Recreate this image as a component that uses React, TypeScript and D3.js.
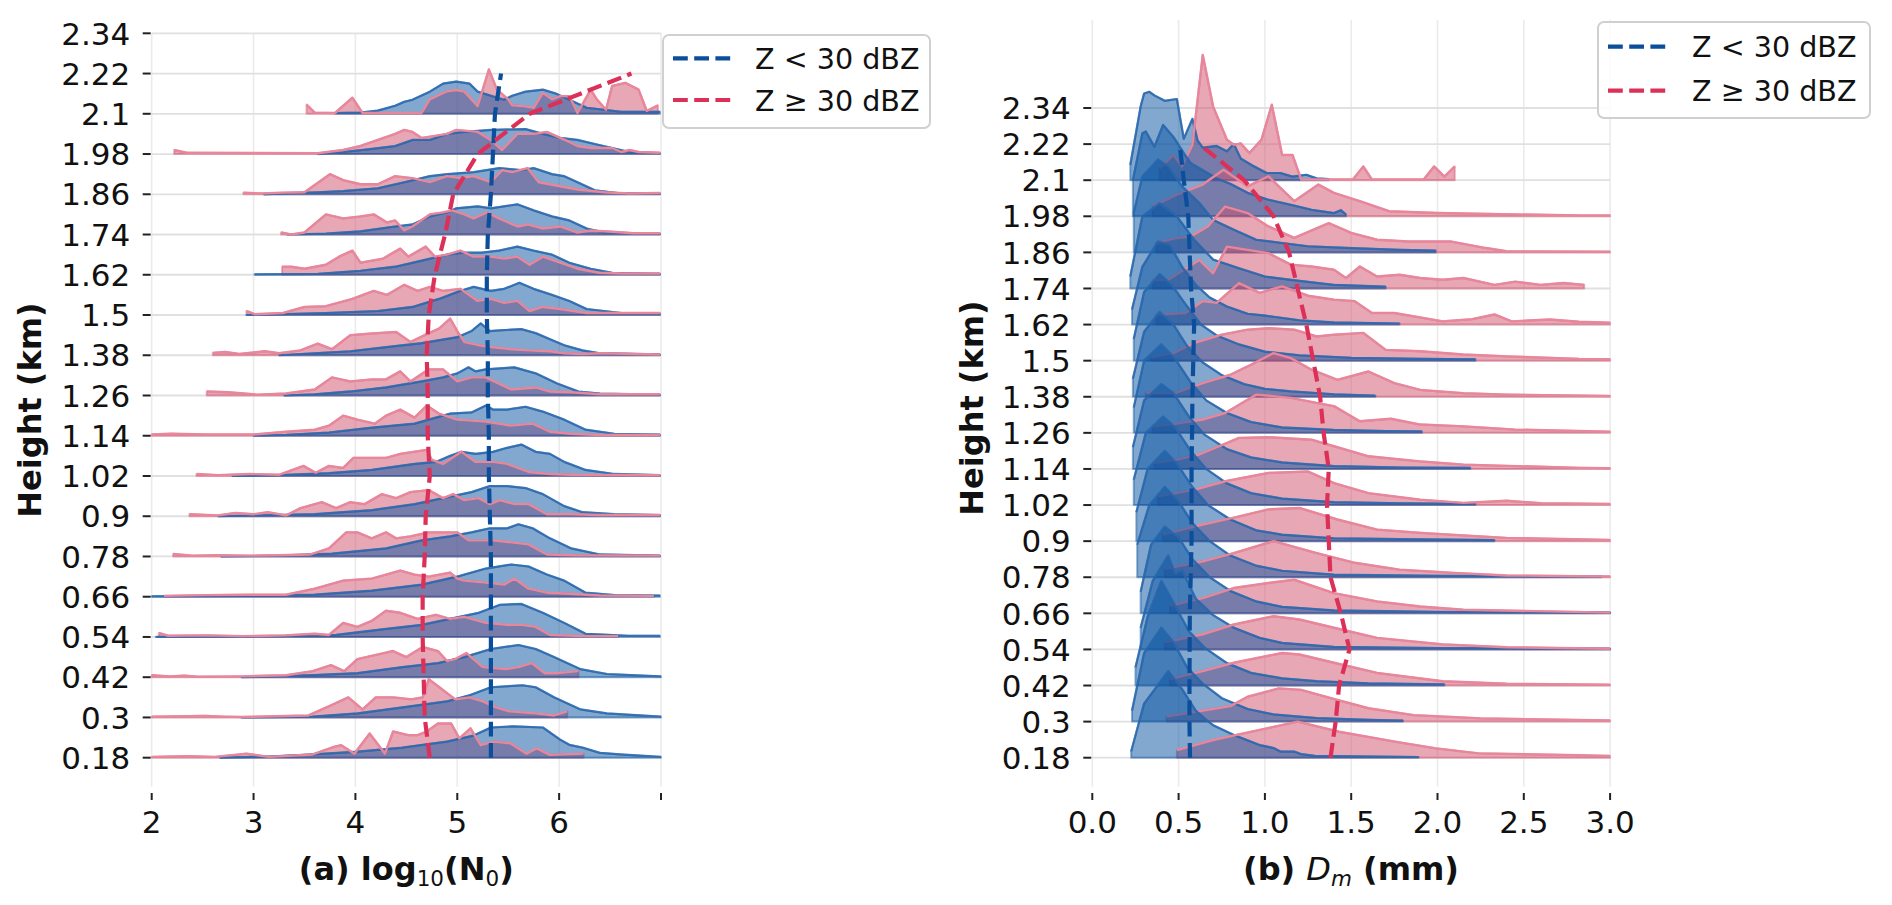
import React from "react";
import * as d3 from "d3";

type Pt = [number, number];

// ---------- shared axis data ----------
const rowLevels = [0.18, 0.3, 0.42, 0.54, 0.66, 0.78, 0.9, 1.02, 1.14, 1.26, 1.38, 1.5, 1.62, 1.74, 1.86, 1.98, 2.1];
const meanLevels = [0.18, 0.3, 0.42, 0.54, 0.66, 0.78, 0.9, 1.02, 1.14, 1.26, 1.38, 1.5, 1.62, 1.74, 1.86, 1.98, 2.1, 2.22];
const yTickValues = [0.18, 0.3, 0.42, 0.54, 0.66, 0.78, 0.9, 1.02, 1.14, 1.26, 1.38, 1.5, 1.62, 1.74, 1.86, 1.98, 2.1, 2.22, 2.34];
const yTickLabels = ["0.18", "0.3", "0.42", "0.54", "0.66", "0.78", "0.9", "1.02", "1.14", "1.26", "1.38", "1.5", "1.62", "1.74", "1.86", "1.98", "2.1", "2.22", "2.34"];
const n0TickValues = [2, 3, 4, 5, 6, 7];
const n0TickLabels = ["2", "3", "4", "5", "6", ""];
const dmTickValues = [0, 0.5, 1, 1.5, 2, 2.5, 3];
const dmTickLabels = ["0.0", "0.5", "1.0", "1.5", "2.0", "2.5", "3.0"];
const legendLabels = ["Z < 30 dBZ", "Z \u2265 30 dBZ"];

// ---------- mean lines (dashed) ----------
const n0LowMean = [5.33, 5.33, 5.33, 5.33, 5.33, 5.33, 5.32, 5.31, 5.31, 5.3, 5.3, 5.29, 5.29, 5.3, 5.33, 5.35, 5.37, 5.43];
const n0HighMean = [4.73, 4.68, 4.67, 4.66, 4.66, 4.68, 4.69, 4.73, 4.71, 4.71, 4.7, 4.72, 4.78, 4.88, 4.96, 5.2, 5.71, 6.71];
const dmLowMean = [0.566, 0.563, 0.563, 0.564, 0.565, 0.57, 0.575, 0.575, 0.575, 0.578, 0.58, 0.585, 0.59, 0.572, 0.564, 0.556, 0.53, 0.506];
const dmHighMean = [1.38, 1.41, 1.43, 1.49, 1.44, 1.38, 1.37, 1.36, 1.37, 1.34, 1.32, 1.28, 1.24, 1.19, 1.14, 1.05, 0.88, 0.62];

// ---------- (a) log10(N0) ridges: [x, density] per height row (0.18 ... 2.1) ----------
const n0Low: Pt[][] = [
  [[2.67,0],[3.15,0.03],[3.58,0.08],[4.02,0.15],[4.46,0.25],[4.9,0.4],[5.16,0.55],[5.33,0.75],[5.55,0.78],[5.84,0.75],[6.01,0.45],[6.1,0.32],[6.23,0.25],[6.4,0.12],[6.6,0.08],[7,0.02]],
  [[2.88,0],[3.58,0.02],[4.02,0.1],[4.46,0.25],[4.9,0.4],[5.12,0.55],[5.33,0.75],[5.64,0.8],[5.77,0.75],[5.95,0.5],[6.21,0.2],[6.47,0.1],[7,0.02]],
  [[2.88,0],[3.58,0.05],[4.02,0.1],[4.46,0.25],[4.81,0.35],[5.07,0.5],[5.33,0.7],[5.6,0.8],[5.77,0.7],[5.95,0.5],[6.21,0.2],[6.47,0.08],[7,0.02]],
  [[2.04,0],[2.54,0.01],[3.25,0.02],[3.81,0.05],[4.3,0.2],[4.65,0.3],[4.93,0.45],[5.21,0.6],[5.42,0.8],[5.63,0.82],[5.84,0.6],[6.05,0.35],[6.26,0.08],[6.68,0.03],[6.99,0.03]],
  [[2,0.01],[2.89,0.02],[3.6,0.05],[4.16,0.15],[4.65,0.3],[5,0.5],[5.28,0.7],[5.53,0.8],[5.7,0.75],[5.88,0.55],[6.05,0.4],[6.26,0.1],[6.54,0.04],[6.99,0.03]],
  [[2.68,0],[3.25,0.02],[3.77,0.07],[4.3,0.2],[4.65,0.4],[4.93,0.5],[5.14,0.6],[5.32,0.7],[5.49,0.7],[5.6,0.8],[5.74,0.7],[5.91,0.45],[6.12,0.2],[6.4,0.05],[6.99,0.02]],
  [[2.65,0],[3.07,0.02],[3.6,0.05],[4.16,0.15],[4.58,0.3],[4.86,0.45],[5.14,0.6],[5.32,0.75],[5.49,0.75],[5.67,0.7],[5.84,0.55],[6.05,0.25],[6.23,0.1],[6.54,0.05],[6.99,0.03]],
  [[2.79,0],[3.25,0.02],[3.74,0.07],[4.16,0.15],[4.58,0.3],[4.79,0.35],[4.93,0.5],[5.04,0.6],[5.18,0.55],[5.35,0.6],[5.49,0.7],[5.63,0.78],[5.77,0.6],[5.91,0.55],[6.05,0.35],[6.26,0.15],[6.54,0.05],[6.99,0.02]],
  [[3,0],[3.32,0.02],[3.74,0.08],[4.16,0.2],[4.58,0.3],[4.72,0.4],[4.93,0.55],[5.14,0.58],[5.28,0.75],[5.35,0.65],[5.49,0.65],[5.67,0.72],[5.84,0.6],[6.05,0.4],[6.26,0.15],[6.54,0.05],[6.99,0.03]],
  [[3.3,0],[3.6,0.03],[3.95,0.1],[4.3,0.2],[4.65,0.35],[4.86,0.45],[5,0.55],[5.11,0.7],[5.18,0.6],[5.28,0.65],[5.56,0.7],[5.77,0.55],[5.98,0.3],[6.19,0.1],[6.4,0.05],[6.99,0.02]],
  [[3.25,0],[3.6,0.05],[3.95,0.1],[4.3,0.2],[4.65,0.3],[5,0.45],[5.14,0.6],[5.23,0.79],[5.32,0.6],[5.42,0.62],[5.63,0.65],[5.77,0.55],[5.91,0.4],[6.05,0.25],[6.23,0.12],[6.4,0.05],[6.99,0.02]],
  [[2.93,0],[3.29,0.02],[3.71,0.05],[4.22,0.1],[4.56,0.2],[4.82,0.4],[5.03,0.6],[5.16,0.7],[5.33,0.6],[5.46,0.65],[5.61,0.8],[5.75,0.65],[5.93,0.5],[6.1,0.35],[6.27,0.15],[6.61,0.05],[6.99,0.03]],
  [[3.01,0.01],[3.63,0.02],[4.05,0.1],[4.39,0.2],[4.65,0.35],[4.9,0.5],[5.07,0.55],[5.24,0.55],[5.41,0.6],[5.59,0.7],[5.75,0.6],[5.93,0.5],[6.1,0.3],[6.31,0.15],[6.52,0.05],[6.99,0.02]],
  [[3.33,0],[3.71,0.02],[4.05,0.08],[4.39,0.2],[4.56,0.25],[4.73,0.45],[4.9,0.55],[4.99,0.65],[5.2,0.7],[5.33,0.65],[5.59,0.75],[5.75,0.6],[5.93,0.45],[6.1,0.35],[6.27,0.15],[6.44,0.05],[6.99,0.02]],
  [[3.1,0],[3.29,0.02],[3.63,0.05],[3.88,0.08],[4.22,0.15],[4.48,0.3],[4.73,0.45],[4.9,0.5],[5.16,0.55],[5.41,0.65],[5.63,0.6],[5.75,0.65],[5.93,0.5],[6.05,0.45],[6.18,0.3],[6.35,0.1],[6.61,0.02],[6.99,0.02]],
  [[3.63,0],[3.88,0.05],[4.14,0.12],[4.39,0.2],[4.56,0.35],[4.73,0.35],[4.9,0.5],[5.07,0.55],[5.33,0.6],[5.67,0.62],[5.84,0.5],[6.01,0.4],[6.18,0.35],[6.35,0.25],[6.52,0.15],[6.69,0.05],[6.99,0.02]],
  [[3.8,0.02],[4.05,0.03],[4.22,0.08],[4.39,0.2],[4.48,0.3],[4.56,0.35],[4.73,0.55],[4.86,0.75],[4.99,0.8],[5.12,0.75],[5.2,0.55],[5.33,0.45],[5.46,0.35],[5.54,0.45],[5.67,0.55],[5.84,0.6],[5.97,0.5],[6.1,0.35],[6.27,0.15],[6.44,0.1],[6.61,0.05],[6.99,0.05]],
];

const n0High: Pt[][] = [
  [[2,0.02],[2.36,0.04],[2.62,0.02],[2.93,0.1],[3.15,0.02],[3.58,0.08],[3.79,0.27],[3.86,0.31],[3.99,0.1],[4.14,0.6],[4.29,0.1],[4.37,0.65],[4.52,0.56],[4.61,0.56],[4.7,0.65],[4.81,0.85],[4.94,0.85],[5.02,0.48],[5.13,0.73],[5.23,0.31],[5.36,0.4],[5.52,0.36],[5.68,0.1],[5.78,0.23],[5.91,0.07],[6.24,0.1]],
  [[2,0.02],[2.53,0.04],[2.71,0.02],[2.88,0.01],[3.54,0.05],[3.76,0.3],[3.93,0.5],[4.07,0.2],[4.2,0.5],[4.37,0.5],[4.55,0.45],[4.66,0.5],[4.72,0.95],[4.85,0.7],[4.98,0.45],[5.12,0.5],[5.25,0.4],[5.38,0.25],[5.51,0.15],[5.77,0.1],[5.95,0.05],[6.08,0.15]],
  [[2,0.05],[2.18,0.02],[2.32,0.04],[2.45,0.01],[2.88,0.02],[3.32,0.05],[3.58,0.15],[3.76,0.3],[3.89,0.15],[4.02,0.45],[4.28,0.6],[4.37,0.65],[4.5,0.5],[4.66,0.75],[4.81,0.65],[4.9,0.4],[4.98,0.45],[5.09,0.6],[5.25,0.25],[5.47,0.2],[5.6,0.25],[5.73,0.35],[5.86,0.1],[5.99,0.1],[6.19,0.15]],
  [[2.07,0.1],[2.16,0.03],[2.54,0.04],[2.89,0.02],[3.32,0.04],[3.6,0.08],[3.74,0.05],[3.88,0.35],[4.02,0.25],[4.16,0.4],[4.3,0.65],[4.44,0.6],[4.61,0.45],[4.79,0.55],[4.93,0.45],[5.07,0.5],[5.28,0.35],[5.49,0.3],[5.63,0.3],[5.77,0.25],[5.91,0.05],[6.26,0.02],[6.58,0.02]],
  [[2.12,0.02],[2.54,0.04],[2.96,0.05],[3.32,0.05],[3.6,0.2],[3.88,0.4],[4.16,0.45],[4.44,0.65],[4.58,0.55],[4.72,0.5],[4.93,0.6],[5,0.45],[5.07,0.4],[5.28,0.35],[5.46,0.3],[5.56,0.45],[5.7,0.2],[5.88,0.1],[6.05,0.08],[6.4,0.03],[6.93,0.02]],
  [[2.21,0.06],[2.4,0.02],[2.65,0.03],[2.96,0.02],[3.25,0.03],[3.56,0.05],[3.74,0.2],[3.91,0.6],[4.02,0.6],[4.16,0.45],[4.3,0.6],[4.4,0.45],[4.54,0.5],[4.72,0.6],[4.86,0.6],[5,0.6],[5.11,0.4],[5.35,0.4],[5.53,0.35],[5.7,0.3],[5.88,0.05],[6.16,0.03],[6.99,0.02]],
  [[2.37,0.05],[2.65,0.02],[2.82,0.08],[3,0.05],[3.14,0.1],[3.32,0.02],[3.46,0.2],[3.67,0.35],[3.81,0.2],[3.95,0.35],[4.09,0.3],[4.26,0.55],[4.4,0.45],[4.54,0.6],[4.72,0.65],[4.86,0.45],[4.96,0.55],[5.07,0.4],[5.21,0.45],[5.32,0.3],[5.42,0.4],[5.56,0.3],[5.7,0.3],[5.88,0.05],[6.12,0.05],[6.4,0.03],[6.99,0.03]],
  [[2.44,0.05],[2.65,0.02],[2.96,0.05],[3.25,0.03],[3.49,0.25],[3.61,0.08],[3.74,0.25],[3.88,0.2],[3.98,0.45],[4.16,0.45],[4.3,0.45],[4.44,0.55],[4.7,0.65],[4.75,0.4],[4.86,0.3],[5.04,0.6],[5.18,0.35],[5.35,0.35],[5.49,0.3],[5.7,0.1],[5.91,0.05],[6.12,0.03],[6.99,0.02]],
  [[2,0.03],[2.19,0.05],[2.54,0.03],[3,0.03],[3.32,0.1],[3.6,0.15],[3.74,0.25],[3.88,0.5],[4.02,0.4],[4.19,0.3],[4.3,0.5],[4.44,0.65],[4.58,0.45],[4.7,0.75],[4.82,0.55],[5,0.4],[5.28,0.35],[5.53,0.25],[5.74,0.3],[5.91,0.1],[6.12,0.05],[6.4,0.02],[6.99,0.02]],
  [[2.54,0.1],[2.75,0.08],[3.04,0.02],[3.32,0.05],[3.6,0.15],[3.77,0.45],[3.95,0.35],[4.16,0.4],[4.3,0.4],[4.44,0.6],[4.54,0.35],[4.72,0.65],[4.86,0.65],[5,0.35],[5.14,0.45],[5.28,0.45],[5.53,0.15],[5.77,0.2],[5.91,0.1],[6.12,0.08],[6.4,0.03],[6.99,0.03]],
  [[2.6,0.06],[2.72,0.08],[2.86,0.03],[3.11,0.1],[3.25,0.05],[3.46,0.12],[3.63,0.29],[3.77,0.15],[3.95,0.5],[4.16,0.54],[4.4,0.58],[4.54,0.33],[4.68,0.5],[4.82,0.66],[4.93,0.91],[5,0.6],[5.07,0.33],[5.21,0.25],[5.35,0.2],[5.53,0.15],[5.7,0.12],[5.91,0.1],[6.05,0.05],[6.23,0.03],[6.4,0.05],[6.99,0.02]],
  [[2.93,0.1],[3.01,0.02],[3.29,0.05],[3.5,0.2],[3.71,0.22],[3.97,0.4],[4.18,0.6],[4.31,0.5],[4.48,0.75],[4.61,0.6],[4.73,0.7],[4.86,0.6],[5.03,0.65],[5.2,0.35],[5.33,0.4],[5.46,0.3],[5.59,0.35],[5.71,0.1],[5.84,0.2],[6.01,0.15],[6.27,0.05],[6.99,0.05]],
  [[3.28,0.2],[3.37,0.2],[3.5,0.15],[3.71,0.25],[3.84,0.45],[3.97,0.6],[4.05,0.3],[4.27,0.4],[4.44,0.65],[4.52,0.45],[4.69,0.7],[4.78,0.45],[4.9,0.5],[5.03,0.6],[5.16,0.45],[5.33,0.45],[5.46,0.4],[5.59,0.45],[5.71,0.25],[5.84,0.45],[6.01,0.3],[6.18,0.15],[6.39,0.05],[6.61,0.03],[6.99,0.03]],
  [[3.27,0.05],[3.37,0],[3.5,0.05],[3.71,0.5],[3.88,0.4],[4.05,0.45],[4.18,0.5],[4.31,0.3],[4.39,0.35],[4.48,0.1],[4.56,0.2],[4.73,0.5],[4.86,0.55],[4.95,0.6],[5.07,0.5],[5.16,0.4],[5.29,0.55],[5.41,0.4],[5.59,0.2],[5.69,0.25],[5.84,0.15],[6.01,0.2],[6.18,0.05],[6.31,0.1],[6.52,0.07],[6.73,0.03],[6.99,0.03]],
  [[2.9,0.04],[3.07,0.02],[3.29,0.04],[3.5,0.05],[3.75,0.5],[3.88,0.35],[4.05,0.25],[4.22,0.25],[4.39,0.45],[4.56,0.4],[4.73,0.3],[4.9,0.45],[5.03,0.4],[5.16,0.45],[5.33,0.3],[5.44,0.6],[5.54,0.55],[5.69,0.65],[5.8,0.3],[6.01,0.2],[6.18,0.12],[6.44,0.05],[6.69,0.02],[6.99,0.03]],
  [[2.22,0.1],[2.35,0.03],[3.63,0.02],[3.88,0.1],[4.05,0.2],[4.22,0.35],[4.39,0.5],[4.48,0.6],[4.56,0.55],[4.65,0.4],[4.78,0.45],[4.9,0.5],[4.99,0.6],[5.2,0.55],[5.33,0.35],[5.44,0.1],[5.59,0.5],[5.75,0.5],[5.88,0.55],[6.01,0.4],[6.1,0.3],[6.18,0.2],[6.31,0.15],[6.52,0.15],[6.61,0.05],[6.69,0.1],[6.78,0.05],[6.99,0.03]],
  [[3.52,0.23],[3.6,0.03],[3.8,0.02],[3.97,0.4],[4.07,0.02],[4.65,0.02],[4.73,0.36],[4.9,0.56],[4.99,0.59],[5.07,0.55],[5.2,0.19],[5.31,1.1],[5.39,0.6],[5.5,0.36],[5.54,0.21],[5.65,0.19],[5.75,0.15],[5.84,0.52],[5.93,0.36],[6.01,0.44],[6.1,0.44],[6.18,0.02],[6.31,0.6],[6.37,0.36],[6.46,0.1],[6.52,0.69],[6.65,0.77],[6.78,0.6],[6.86,0.07],[6.97,0.21]],
];

// ---------- (b) Dm ridges ----------
const dmLow: Pt[][] = [
  [[0.225,0.17],[0.3,1.5],[0.44,2.4],[0.52,1.9],[0.6,1.3],[0.66,1.05],[0.7,0.9],[0.82,0.63],[0.97,0.35],[1.05,0.27],[1.09,0.17],[1.17,0.17],[1.21,0.1],[1.29,0.05],[1.89,0.02]],
  [[0.23,0.3],[0.3,1.9],[0.4,2.6],[0.47,2.2],[0.55,1.5],[0.64,1.05],[0.75,0.65],[0.9,0.35],[1.05,0.2],[1.3,0.1],[1.6,0.05],[1.8,0.03]],
  [[0.25,0.5],[0.32,1.9],[0.4,2.9],[0.47,2.3],[0.56,1.5],[0.65,1.05],[0.78,0.62],[0.92,0.35],[1.1,0.2],[1.3,0.12],[1.6,0.06],[2.04,0.03]],
  [[0.28,0.6],[0.35,1.9],[0.44,2.6],[0.48,2.1],[0.52,2.2],[0.6,1.4],[0.7,0.95],[0.82,0.6],[0.97,0.32],[1.1,0.18],[1.4,0.07],[2,0.04],[3,0.02]],
  [[0.28,0.6],[0.34,1.9],[0.42,2.4],[0.5,2.1],[0.58,1.5],[0.68,1],[0.8,0.62],[0.95,0.33],[1.1,0.18],[1.4,0.08],[2,0.04],[3,0.02]],
  [[0.26,0.9],[0.33,2],[0.42,2.5],[0.5,2.1],[0.58,1.5],[0.68,1],[0.8,0.6],[0.95,0.32],[1.1,0.18],[1.4,0.07],[2,0.04],[2.95,0.02]],
  [[0.255,0.8],[0.32,2],[0.42,2.5],[0.49,2.15],[0.58,1.5],[0.67,1],[0.8,0.6],[0.95,0.3],[1.1,0.18],[1.4,0.08],[1.9,0.05],[2.33,0.03]],
  [[0.24,0.7],[0.31,2],[0.41,2.45],[0.48,2.15],[0.57,1.5],[0.66,1],[0.78,0.6],[0.92,0.33],[1.1,0.18],[1.4,0.08],[1.8,0.05],[2.22,0.03]],
  [[0.235,0.6],[0.3,1.9],[0.4,2.35],[0.47,2.1],[0.56,1.45],[0.65,0.95],[0.78,0.55],[0.92,0.32],[1.1,0.18],[1.4,0.08],[1.8,0.04],[2.19,0.03]],
  [[0.24,0.7],[0.3,2],[0.4,2.45],[0.48,2.05],[0.57,1.4],[0.66,0.9],[0.78,0.55],[0.92,0.3],[1.1,0.15],[1.4,0.08],[1.7,0.05],[1.91,0.04]],
  [[0.235,0.5],[0.3,1.8],[0.39,2.35],[0.47,2],[0.55,1.4],[0.64,0.95],[0.75,0.6],[0.88,0.35],[1,0.22],[1.15,0.15],[1.4,0.07],[1.64,0.03]],
  [[0.24,0.6],[0.3,1.9],[0.39,2.4],[0.46,2.1],[0.55,1.5],[0.63,1],[0.72,0.7],[0.85,0.45],[1,0.25],[1.2,0.15],[1.5,0.08],[1.9,0.05],[2.22,0.04]],
  [[0.23,0.42],[0.29,1.6],[0.38,2.3],[0.45,2.2],[0.52,1.6],[0.6,1.1],[0.68,0.75],[0.78,0.5],[0.9,0.3],[1,0.25],[1.2,0.12],[1.4,0.06],[1.78,0.03]],
  [[0.22,0.33],[0.29,2],[0.39,2.36],[0.49,2],[0.59,1.35],[0.7,0.8],[0.85,0.56],[1,0.33],[1.15,0.24],[1.4,0.1],[1.7,0.05]],
  [[0.24,1.1],[0.29,2.1],[0.38,2.57],[0.44,2.38],[0.52,1.83],[0.62,1.37],[0.7,0.9],[0.82,0.63],[0.95,0.35],[1.1,0.26],[1.25,0.17],[1.5,0.12],[1.78,0.07],[1.99,0.05]],
  [[0.235,1],[0.29,2.3],[0.31,2.35],[0.36,1.93],[0.41,2.53],[0.47,2.2],[0.53,1.75],[0.57,1.47],[0.64,1.28],[0.72,1.05],[0.8,0.9],[0.9,0.65],[1.02,0.46],[1.15,0.32],[1.27,0.18],[1.4,0.09],[1.44,0.17],[1.47,0.05]],
  [[0.22,0.42],[0.28,2.04],[0.3,2.4],[0.33,2.45],[0.36,2.35],[0.42,2.2],[0.49,2.25],[0.53,1.15],[0.58,1.7],[0.61,1.1],[0.64,0.9],[0.72,0.95],[0.78,0.8],[0.82,1],[0.86,0.6],[0.93,0.4],[1.01,0.2],[1.09,0.2],[1.16,0.1],[1.24,0.15],[1.3,0.05],[1.37,0.03]],
];

const dmHigh: Pt[][] = [
  [[0.49,0.21],[0.7,0.49],[0.95,0.75],[1.19,1],[1.43,0.72],[1.76,0.44],[1.99,0.26],[2.24,0.12],[2.82,0.07],[3,0.05]],
  [[0.43,0.14],[0.8,0.43],[0.9,0.69],[1.08,0.92],[1.21,0.88],[1.42,0.6],[1.6,0.37],[1.86,0.18],[2.25,0.09],[3,0.03]],
  [[0.45,0.18],[0.64,0.4],[0.82,0.63],[1.1,0.9],[1.2,0.86],[1.4,0.63],[1.65,0.35],[2.03,0.12],[2.4,0.05],[3,0.02]],
  [[0.42,0.2],[0.64,0.42],[0.82,0.69],[1.05,0.92],[1.2,0.83],[1.4,0.6],[1.65,0.32],[2.03,0.14],[2.4,0.06],[3,0.02]],
  [[0.45,0.21],[0.64,0.42],[0.82,0.7],[1.02,0.84],[1.17,0.93],[1.4,0.56],[1.65,0.33],[1.9,0.19],[2.15,0.1],[3,0.02]],
  [[0.42,0.23],[0.64,0.44],[0.82,0.67],[1.05,1],[1.3,0.67],[1.52,0.4],[1.78,0.21],[2.1,0.12],[2.4,0.05],[3,0.02]],
  [[0.41,0.18],[0.64,0.46],[0.82,0.65],[1.02,0.88],[1.2,0.92],[1.42,0.6],[1.65,0.32],[1.9,0.23],[2.4,0.09],[3,0.03]],
  [[0.38,0.24],[0.59,0.42],[0.77,0.66],[1.02,0.89],[1.25,0.93],[1.4,0.61],[1.6,0.33],[1.9,0.15],[2.15,0.06],[2.4,0.12],[2.6,0.05],[3,0.03]],
  [[0.36,0.17],[0.49,0.26],[0.62,0.4],[0.85,0.86],[1.02,0.88],[1.27,0.81],[1.4,0.63],[1.6,0.35],[1.9,0.21],[2.15,0.12],[2.82,0.03],[3,0.02]],
  [[0.35,0.18],[0.49,0.26],[0.64,0.37],[0.77,0.55],[0.95,1.06],[1.15,0.97],[1.3,0.83],[1.4,0.74],[1.55,0.32],[1.73,0.39],[1.9,0.23],[2.15,0.18],[2.45,0.09],[3,0.03]],
  [[0.31,0.12],[0.39,0.1],[0.49,0.12],[0.64,0.38],[0.8,0.61],[0.9,0.84],[1.05,1.21],[1.15,1.07],[1.27,0.75],[1.42,0.47],[1.6,0.7],[1.75,0.38],[1.9,0.19],[2.15,0.1],[2.4,0.06],[3,0.02]],
  [[0.34,0.1],[0.47,0.21],[0.59,0.49],[0.75,0.72],[0.9,0.86],[1.02,0.9],[1.17,0.86],[1.3,0.67],[1.4,0.72],[1.57,0.77],[1.7,0.3],[1.9,0.26],[2.15,0.17],[2.4,0.12],[2.82,0.05],[3,0.04]],
  [[0.37,0.28],[0.54,0.32],[0.64,0.65],[0.72,0.6],[0.85,1.15],[0.97,0.88],[1.1,1.06],[1.25,0.8],[1.4,0.69],[1.52,0.65],[1.62,0.32],[1.75,0.32],[2.03,0.09],[2.2,0.15],[2.33,0.28],[2.43,0.09],[2.65,0.14],[2.82,0.08],[3,0.05]],
  [[0.35,0.24],[0.44,0.24],[0.62,0.79],[0.7,0.42],[0.78,1.16],[0.9,1.07],[1.02,0.98],[1.15,0.66],[1.27,0.61],[1.4,0.52],[1.47,0.29],[1.55,0.61],[1.65,0.33],[1.78,0.38],[1.9,0.29],[2.03,0.24],[2.15,0.29],[2.33,0.1],[2.45,0.19],[2.6,0.1],[2.73,0.15],[2.85,0.1]],
  [[0.37,0.26],[0.49,0.4],[0.57,0.44],[0.67,0.72],[0.77,1.27],[0.9,1.09],[1.02,0.72],[1.17,0.4],[1.37,0.81],[1.5,0.54],[1.65,0.35],[1.83,0.3],[2.08,0.3],[2.28,0.12],[2.4,0.03],[3,0.02]],
  [[0.35,0.28],[0.49,0.6],[0.64,0.88],[0.76,1.29],[0.9,0.83],[1.02,1.11],[1.17,0.42],[1.31,0.88],[1.4,0.65],[1.55,0.42],[1.72,0.14],[2,0.09],[2.83,0.02],[3,0.02]],
  [[0.39,0.33],[0.47,0.7],[0.52,0.38],[0.58,0.98],[0.64,3.47],[0.7,2.04],[0.78,1.12],[0.82,0.98],[0.86,1.02],[0.91,0.75],[0.98,1.12],[1.04,2.09],[1.1,0.7],[1.16,0.7],[1.21,0.02],[1.51,0.02],[1.57,0.38],[1.62,0.02],[1.92,0.02],[1.98,0.38],[2.04,0.1],[2.1,0.38]],
];

// ---------- styling ----------
const FONT = "'DejaVu Sans', sans-serif";
const BLUE_FILL = "#0652a0";
const BLUE_LINE = "#2c68ae";
const PINK_FILL = "#d2506c";
const PINK_LINE = "#e8869b";
const BLUE_DASH = "#0b4f9c";
const RED_DASH = "#dc3058";
const INK = "#111";
const RIDGE_UNIT = 0.12; // density 1.0 spans one row spacing

type PanelCfg = {
  x0: number; x1: number; yTop: number; yBot: number;
  xDomain: [number, number]; yDomain: [number, number];
  xTicks: number[]; xLabels: string[];
  low: Pt[][]; high: Pt[][]; lowMean: number[]; highMean: number[];
};

const panelA: PanelCfg = {
  x0: 151.7, x1: 661, yTop: 33.3, yBot: 786.7,
  xDomain: [2, 7], yDomain: [0.0935, 2.34],
  xTicks: n0TickValues, xLabels: n0TickLabels,
  low: n0Low, high: n0High, lowMean: n0LowMean, highMean: n0HighMean,
};
const panelB: PanelCfg = {
  x0: 1092.3, x1: 1610.1, yTop: 20, yBot: 786.7,
  xDomain: [0, 3], yDomain: [0.0836, 2.6326],
  xTicks: dmTickValues, xLabels: dmTickLabels,
  low: dmLow, high: dmHigh, lowMean: dmLowMean, highMean: dmHighMean,
};

function Panel({ p }: { p: PanelCfg }) {
  const x = d3.scaleLinear().domain(p.xDomain).range([p.x0, p.x1]);
  const y = d3.scaleLinear().domain(p.yDomain).range([p.yBot, p.yTop]);
  const areaFor = (base: number) =>
    d3.area<Pt>().x((d) => x(d[0])).y0(y(base)).y1((d) => y(base + d[1] * RIDGE_UNIT));
  const lineFor = (base: number) =>
    d3.line<Pt>().x((d) => x(d[0])).y((d) => y(base + d[1] * RIDGE_UNIT));
  const meanLine = d3.line<number>().x((d) => x(d)).y((_, i) => y(meanLevels[i]));
  const order = rowLevels.map((_, i) => i).reverse();
  const tickY0 = 793;
  const tickY1 = 800;
  return (
    <g>
      {p.xTicks.map((t) => (
        <line key={"vg" + t} x1={x(t)} x2={x(t)} y1={p.yTop} y2={p.yBot} stroke="#ebebeb" strokeWidth={1.6} />
      ))}
      {yTickValues.map((t) => (
        <line key={"hg" + t} x1={p.x0} x2={p.x1} y1={y(t)} y2={y(t)} stroke="#e0e0e0" strokeWidth={1.8} />
      ))}
      {order.map((i) => {
        const base = rowLevels[i];
        return (
          <g key={"row" + i}>
            <path d={areaFor(base)(p.high[i]) || ""} fill={PINK_FILL} fillOpacity={0.5} stroke={PINK_FILL} strokeOpacity={0.45} strokeWidth={2} strokeLinejoin="round" />
            <path d={areaFor(base)(p.low[i]) || ""} fill={BLUE_FILL} fillOpacity={0.5} stroke={BLUE_FILL} strokeOpacity={0.45} strokeWidth={2} strokeLinejoin="round" />
            <path d={lineFor(base)(p.low[i]) || ""} fill="none" stroke={BLUE_LINE} strokeOpacity={0.85} strokeWidth={2.2} strokeLinejoin="round" />
            <path d={lineFor(base)(p.high[i]) || ""} fill="none" stroke={PINK_LINE} strokeWidth={2.4} strokeLinejoin="round" />
          </g>
        );
      })}
      <path d={meanLine(p.lowMean) || ""} fill="none" stroke={BLUE_DASH} strokeWidth={4.2} strokeDasharray="14.8,6.4" />
      <path d={meanLine(p.highMean) || ""} fill="none" stroke={RED_DASH} strokeWidth={4.2} strokeDasharray="14.8,6.4" />
      {yTickValues.map((t, i) => (
        <g key={"yt" + t}>
          <line x1={p.x0 - 9} x2={p.x0 - 1} y1={y(t)} y2={y(t)} stroke="#222" strokeWidth={2} />
          <text x={p.x0 - 21.5} y={y(t) + 11.2} textAnchor="end" fontSize={31} fontFamily={FONT} fill={INK}>
            {yTickLabels[i]}
          </text>
        </g>
      ))}
      {p.xTicks.map((t, i) => (
        <g key={"xt" + t}>
          <line x1={x(t)} x2={x(t)} y1={tickY0} y2={tickY1} stroke="#222" strokeWidth={2} />
          <text x={x(t)} y={833} textAnchor="middle" fontSize={31} fontFamily={FONT} fill={INK}>
            {p.xLabels[i]}
          </text>
        </g>
      ))}
    </g>
  );
}

function Legend({ x, y, w, h, rows, textX, baselines }: { x: number; y: number; w: number; h: number; rows: number[]; textX: number; baselines: number[] }) {
  const colors = [BLUE_DASH, RED_DASH];
  return (
    <g>
      <rect x={x} y={y} width={w} height={h} rx={6} ry={6} fill="#fff" fillOpacity={0.85} stroke="#d0d0d0" strokeWidth={2} />
      {rows.map((ry, i) => (
        <g key={i}>
          <line x1={x + 10} x2={x + 69} y1={ry} y2={ry} stroke={colors[i]} strokeWidth={4.2} strokeDasharray="14.8,6.4" />
          <text x={textX} y={baselines[i]} fontSize={28.6} fontFamily={FONT} fill={INK}>
            {legendLabels[i]}
          </text>
        </g>
      ))}
    </g>
  );
}

export default function App() {
  return (
    <div>
      <style>{`html,body{margin:0;padding:0;background:#fff;}`}</style>
      <svg width={1892} height={905} viewBox="0 0 1892 905" style={{ display: "block" }}>
        <rect x={0} y={0} width={1892} height={905} fill="#fff" />
        <Panel p={panelA} />
        <Panel p={panelB} />
        <text transform="translate(41,410) rotate(-90)" textAnchor="middle" fontSize={32} fontWeight="bold" fontFamily={FONT} fill={INK}>
          Height (km)
        </text>
        <text transform="translate(983,408) rotate(-90)" textAnchor="middle" fontSize={32} fontWeight="bold" fontFamily={FONT} fill={INK}>
          Height (km)
        </text>
        <text x={406.3} y={880} textAnchor="middle" fontSize={32} fontWeight="bold" fontFamily={FONT} fill={INK} style={{ whiteSpace: "pre" }}>
          <tspan>(a) log</tspan>
          <tspan fontWeight="normal" fontSize={21.5} dy={6}>10</tspan>
          <tspan dy={-6}>(N</tspan>
          <tspan fontWeight="normal" fontSize={21.5} dy={6}>0</tspan>
          <tspan dy={-6}>)</tspan>
        </text>
        <text x={1351} y={880} textAnchor="middle" fontSize={32} fontWeight="bold" fontFamily={FONT} fill={INK} style={{ whiteSpace: "pre" }}>
          <tspan>(b) </tspan>
          <tspan fontWeight="normal" fontStyle="italic">D</tspan>
          <tspan fontWeight="normal" fontStyle="italic" fontSize={21.5} dy={6}>m</tspan>
          <tspan dy={-6}> (mm)</tspan>
        </text>
        <Legend x={663} y={35} w={267} h={93} rows={[58.3, 100]} textX={755} baselines={[68.5, 110.5]} />
        <Legend x={1598} y={22} w={272} h={96} rows={[46.7, 90.7]} textX={1692} baselines={[57, 101]} />
      </svg>
    </div>
  );
}
